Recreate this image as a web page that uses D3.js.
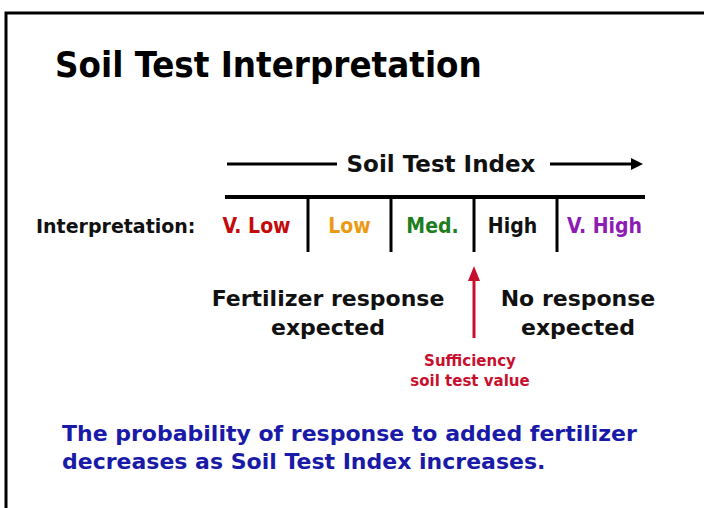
<!DOCTYPE html>
<html>
<head>
<meta charset="utf-8">
<script src="https://cdn.jsdelivr.net/npm/d3@7"></script>
<style>
  body { margin: 0; background: #fff; }
  svg text { font-family: "DejaVu Sans Condensed", "DejaVu Sans", sans-serif; font-weight: bold; }
  svg text.wide { font-family: "DejaVu Sans", Verdana, sans-serif; }
</style>
</head>
<body>
<div id="container"></div>
<script>
var width = 704, height = 508;

// categories of the soil test index, low to high
var categories = ["V. Low", "Low", "Med.", "High", "V. High"];
var catColors = ["#c40a0a", "#eb9a14", "#1e7d1e", "#111111", "#8c1cb4"];
// boundary (between Med. and High) where the sufficiency value sits
var sufficiencyIndex = 3;
var titleText = "Soil Test Interpretation";
var axisTitle = "Soil Test Index";
var leftNote = ["Fertilizer response", "expected"];
var rightNote = ["No response", "expected"];
var sufficiencyNote = ["Sufficiency", "soil test value"];
var footNote = ["The probability of response to added fertilizer",
                "decreases as Soil Test Index increases."];

var svg = d3.select("#container")
    .append("svg")
    .attr("width", width)
    .attr("height", height);

// cadre de la diapo (gauche + haut)
svg.append("path")
    .attr("d", "M6," + height + "V13H" + width)
    .attr("fill", "none")
    .attr("stroke", "#000")
    .attr("stroke-width", 3);

svg.append("text")
    .attr("x", 55).attr("y", 77)
    .attr("font-size", 36.3)
    .text(titleText);

// echelle de l'index
var x = d3.scaleLinear().domain([0, categories.length]).range([225, 640]);

// fleche "Soil Test Index"
var arrowY = 164;
svg.append("line")
    .attr("x1", 227).attr("x2", 337)
    .attr("y1", arrowY).attr("y2", arrowY)
    .attr("stroke", "#000").attr("stroke-width", 3);
svg.append("text")
    .attr("class", "wide")
    .attr("x", 441).attr("y", 172)
    .attr("text-anchor", "middle")
    .attr("font-size", 23)
    .attr("fill", "#111")
    .text(axisTitle);
svg.append("line")
    .attr("x1", 550).attr("x2", 634)
    .attr("y1", arrowY).attr("y2", arrowY)
    .attr("stroke", "#000").attr("stroke-width", 3);
svg.append("path")
    .attr("d", "M643," + arrowY + "L631," + (arrowY - 6) + "L631," + (arrowY + 6) + "Z")
    .attr("fill", "#000");

// barre du haut + separateurs
svg.append("line")
    .attr("x1", x(0)).attr("x2", 645)
    .attr("y1", 197).attr("y2", 197)
    .attr("stroke", "#000").attr("stroke-width", 4);

svg.selectAll(".divider")
    .data(d3.range(1, categories.length))
    .enter().append("line")
    .attr("class", "divider")
    .attr("x1", d => x(d)).attr("x2", d => x(d))
    .attr("y1", 197).attr("y2", 252)
    .attr("stroke", "#000").attr("stroke-width", 3);

svg.selectAll(".cat")
    .data(categories)
    .enter().append("text")
    .attr("class", "cat")
    .attr("x", (d, i) => x(i + 0.5) - (i == 0 ? 10 : 0) - (i == 3 ? 3 : 0) + (i == 4 ? 6 : 0))
    .attr("y", 233)
    .attr("text-anchor", "middle")
    .attr("font-size", 21)
    .attr("fill", (d, i) => catColors[i])
    .text(d => d);

svg.append("text")
    .attr("class", "wide")
    .attr("x", 36).attr("y", 233)
    .attr("font-size", 19)
    .attr("fill", "#111")
    .text("Interpretation:");

// fleche rouge du seuil de suffisance
var sx = x(sufficiencyIndex);
svg.append("line")
    .attr("x1", sx).attr("x2", sx)
    .attr("y1", 338).attr("y2", 278)
    .attr("stroke", "#c8102e").attr("stroke-width", 3);
svg.append("path")
    .attr("d", "M" + sx + ",266L" + (sx - 6) + ",281L" + (sx + 6) + ",281Z")
    .attr("fill", "#c8102e");

function block(lines, cx, y0, dy, size, color) {
    svg.append("g").selectAll("text")
        .data(lines)
        .enter().append("text")
        .attr("class", "wide")
        .attr("x", cx)
        .attr("y", (d, i) => y0 + i * dy)
        .attr("text-anchor", "middle")
        .attr("font-size", size)
        .attr("fill", color)
        .text(d => d);
}

block(leftNote, 328, 306, 29, 22, "#111");
block(rightNote, 578, 306, 29, 22, "#111");
block(sufficiencyNote, 470, 366, 20, 15, "#c8102e");

svg.append("g").selectAll("text")
    .data(footNote)
    .enter().append("text")
    .attr("class", "wide")
    .attr("x", 62)
    .attr("y", (d, i) => 441 + i * 28)
    .attr("font-size", 22)
    .attr("fill", "#1a1aa8")
    .text(d => d);
</script>
</body>
</html>
